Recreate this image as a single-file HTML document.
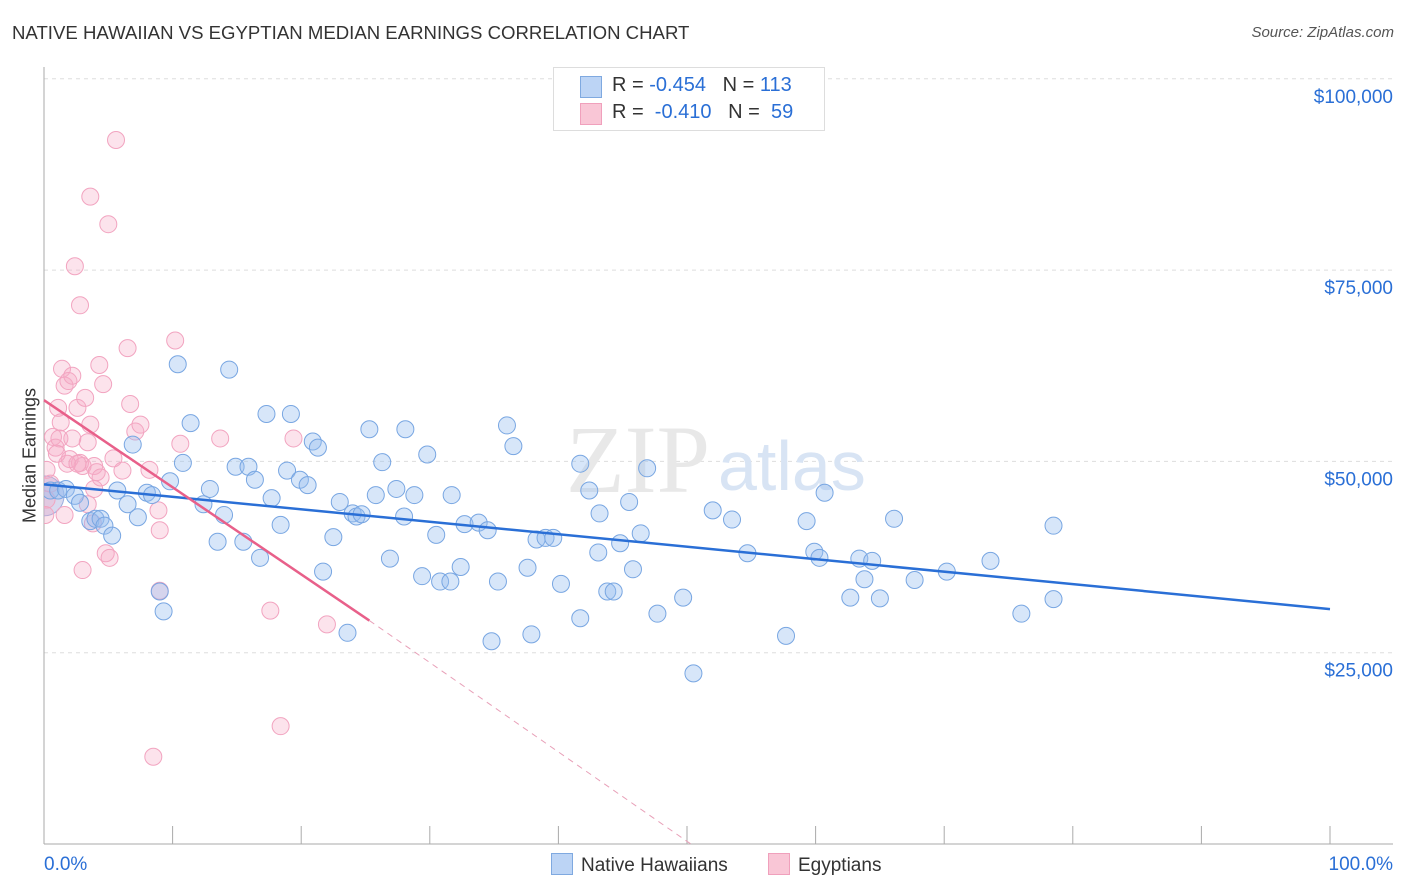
<!DOCTYPE html>
<html><head><meta charset="utf-8"><style>
body{margin:0;background:#fff;font-family:"Liberation Sans",sans-serif;}
#wrap{position:relative;width:1406px;height:892px;overflow:hidden;}
.t{position:absolute;white-space:nowrap;}
</style></head><body>
<div id="wrap">
<div class="t" style="left:12px;top:22px;font-size:18.6px;color:#333;">NATIVE HAWAIIAN VS EGYPTIAN MEDIAN EARNINGS CORRELATION CHART</div>
<div class="t" style="right:12px;top:24px;font-size:15px;color:#555;font-style:italic;">Source: ZipAtlas.com</div>
<div class="t" style="left:-40px;top:445px;font-size:18px;color:#333;transform:rotate(-90deg);width:140px;text-align:center;">Median Earnings</div>
<svg id="svg" width="1406" height="892" style="position:absolute;left:0;top:0">
<defs><clipPath id="pc"><rect x="44" y="60" width="1360" height="785"/></clipPath></defs>
<g id="grid"></g>
<text x="710" y="492" font-size="96" fill="#e8e8e8" font-family="Liberation Serif" text-anchor="end">ZIP</text>
<text x="718" y="490" font-size="70" fill="#d8e4f4" font-family="Liberation Sans">atlas</text>
<g id="pts" clip-path="url(#pc)"></g>
<g id="lines"></g>
</svg>
<div style="position:absolute;left:553px;top:67px;width:270px;height:62px;border:1px solid #ddd;background:#fff;font-size:20px;">
 <div style="position:absolute;left:26px;top:8px;width:20px;height:20px;background:#bcd4f5;border:1px solid #7fa9e0;"></div>
 <div class="t" style="left:58px;top:6px;color:#333;">R = <span style="color:#2a6fd6">-0.454</span>&nbsp;&nbsp;&nbsp;N = <span style="color:#2a6fd6">113</span></div>
 <div style="position:absolute;left:26px;top:35px;width:20px;height:20px;background:#f9c6d6;border:1px solid #f0a0bc;"></div>
 <div class="t" style="left:58px;top:33px;color:#333;">R = &nbsp;<span style="color:#2a6fd6">-0.410</span>&nbsp;&nbsp;&nbsp;N = &nbsp;<span style="color:#2a6fd6">59</span></div>
</div>
<div style="position:absolute;left:551px;top:853px;font-size:19px;color:#333;">
 <span style="display:inline-block;width:20px;height:20px;background:#bcd4f5;border:1px solid #7fa9e0;vertical-align:-4px;margin-right:8px"></span>Native Hawaiians</div>
<div style="position:absolute;left:768px;top:853px;font-size:19px;color:#333;">
 <span style="display:inline-block;width:20px;height:20px;background:#f9c6d6;border:1px solid #f0a0bc;vertical-align:-4px;margin-right:8px"></span>Egyptians</div>
</div>
<script>
const yTicks=[25000,50000,75000,100000];
const yTickLabels=["$25,000","$50,000","$75,000","$100,000"];
const blueX=[0.5,1.1,1.7,2.4,2.8,3.6,4.0,4.4,4.7,5.3,5.7,6.5,6.9,7.3,8.0,8.4,9.0,9.3,9.8,10.4,10.8,11.4,12.4,12.9,13.5,14.0,14.4,14.9,15.5,15.9,16.4,16.8,17.3,17.7,18.4,18.9,19.2,19.9,20.5,20.9,21.3,21.7,22.5,23.0,23.6,24.0,24.3,24.7,25.3,25.8,26.3,26.9,27.4,28.1,28.0,28.8,29.4,29.8,30.5,30.8,31.6,31.7,32.4,32.7,33.8,34.5,34.8,35.3,36.0,36.5,37.6,37.9,38.3,39.0,39.6,40.2,41.7,41.7,42.4,43.2,43.1,43.8,44.3,44.8,45.5,45.8,46.4,46.9,47.7,49.7,50.5,52.0,53.5,54.7,57.7,59.3,59.9,60.3,60.7,62.7,63.4,63.8,64.4,65.0,66.1,67.7,70.2,73.6,76.0,78.5,78.5,82.5,92.5];
const blueY=[46200,46200,46400,45500,44600,42200,42500,42500,41600,40300,46200,44400,52200,42700,45900,45600,33000,30400,47400,62700,49800,55000,44400,46400,39500,43000,62000,49300,39500,49300,47600,37400,56200,45200,41700,48800,56200,47600,46900,52600,51800,35600,40100,44700,27600,43200,42800,43100,54200,45600,49900,37300,46400,54200,42800,45600,35000,50900,40400,34300,34300,45600,36200,41800,42000,41000,26500,34300,54700,52000,36100,27400,39800,40000,40000,34000,29500,49700,46200,43200,38100,33000,33000,39300,44700,35900,40600,49100,30100,32200,22300,43600,42400,38000,27200,42200,38200,37400,45900,32200,37300,34600,37000,32100,42500,34500,35600,37000,30100,41600,32000];
const pinkX=[0.2,0.2,0.7,0.9,1.1,1.3,1.4,1.6,1.9,2.0,2.2,2.4,2.6,2.8,2.8,3.0,3.0,3.2,3.4,3.6,3.8,3.9,4.1,4.3,4.4,4.6,4.8,5.0,5.1,5.4,5.6,3.6,6.1,6.5,6.7,7.1,7.5,8.2,8.9,9.0,9.0,10.2,10.6,13.7,17.6,18.4,19.4,22.0,8.5,1.2,1.8,1.6,1.0,2.2,2.6,3.4,3.9,0.1,0.5];
const pinkY=[48900,45000,53200,51800,57000,55100,62100,59900,60500,50300,61200,75500,57000,70400,49800,49400,35800,58300,52500,54800,41900,49400,48600,62600,47900,60100,38000,81000,37400,50400,92000,84600,48800,64800,57500,53900,54800,48900,43600,41000,33100,65800,52300,53000,30500,15400,53000,28700,11400,53000,49700,43000,51000,53000,49700,44400,46400,43000,47100];
const xTicks=[0,10,20,30,40,50,60,70,80,90,100];
const NS="http://www.w3.org/2000/svg";
const X=p=>44+p*12.86, Y=v=>844-v/25000*191.3;
const svg=document.getElementById('svg'),grid=document.getElementById('grid'),pts=document.getElementById('pts'),lines=document.getElementById('lines');
function mk(tag,attrs,parent){const e=document.createElementNS(NS,tag);for(const k in attrs)e.setAttribute(k,attrs[k]);parent.appendChild(e);return e;}
yTicks.forEach((v,i)=>{
 const g=mk('line',{x1:44,x2:1393,y1:Y(v),y2:Y(v),stroke:'#ddd','stroke-dasharray':'4,4'},grid);
 
 
 const t=mk('text',{x:1393,y:Y(v)+24,'font-size':19,fill:'#2a6fd6','text-anchor':'end'},grid);
 t.textContent=yTickLabels[i];
 
 
});
const axl=mk('line',{x1:44,x2:44,y1:67,y2:844,stroke:'#aaa'},grid);


const axb=mk('line',{x1:44,x2:1393,y1:844,y2:844,stroke:'#aaa'},grid);


xTicks.forEach(p=>{const l=mk('line',{x1:X(p),x2:X(p),y1:826,y2:844,stroke:'#aaa'},grid);
 
 });
[["0.0%",44,'start'],["100.0%",1393,'end']].forEach(a=>{const t=mk('text',{x:a[1],y:870,'font-size':19,fill:'#2a6fd6','text-anchor':a[2]},grid);t.textContent=a[0];
 
 });
mk('circle',{cx:X(0),cy:Y(45500),r:20,fill:'rgba(170,170,220,0.45)',stroke:'#9aaee0'},pts);
pinkX.forEach((x,i)=>{const c=mk('circle',{cx:X(x),cy:Y(pinkY[i]),r:8.5,fill:'rgba(246,170,196,0.33)',stroke:'#f2a4c0','stroke-width':1},pts);
 
 });
blueX.forEach((x,i)=>{const c=mk('circle',{cx:X(x),cy:Y(blueY[i]),r:8.5,fill:'rgba(150,190,240,0.38)',stroke:'#78a6e2','stroke-width':1},pts);
 
 });
const bl=mk('line',{x1:X(0),y1:Y(47000),x2:X(100),y2:Y(30700),stroke:'#2a6fd6','stroke-width':2.5},lines);


const pl=mk('line',{x1:X(0),y1:Y(58000),x2:X(25.3),y2:Y(29200),stroke:'#e8608a','stroke-width':2.5},lines);


const pd=mk('line',{x1:X(25.3),y1:Y(29200),x2:X(50.3),y2:Y(0),stroke:'#e8a0b8','stroke-width':1,'stroke-dasharray':'6,5'},lines);


</script>
</body></html>
